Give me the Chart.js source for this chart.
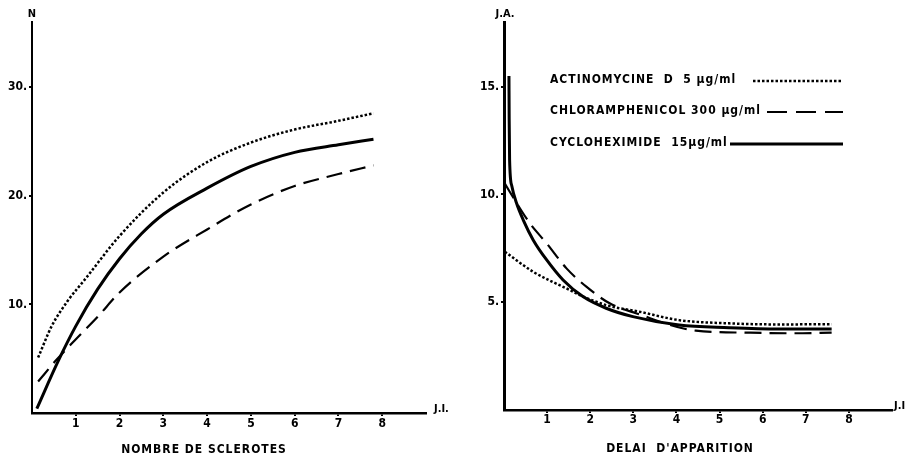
<!DOCTYPE html>
<html>
<head>
<meta charset="utf-8">
<script src="https://cdn.jsdelivr.net/npm/chart.js@4"></script>
<style>
  body { margin: 0; background: #fff; }
  #wrap { position: relative; width: 920px; height: 460px; }
  canvas { position: absolute; top: 0; }
</style>
</head>
<body>
<div id="wrap">
  <canvas id="chartLeft" width="460" height="460" style="left:0"></canvas>
  <canvas id="chartRight" width="460" height="460" style="left:460px"></canvas>
</div>
<script>
// Nombre de sclerotes (N) en fonction de J.I.
const leftActX = [0.14, 0.45, 0.83, 1.21, 2, 3, 4, 5, 6, 7, 7.8];
const leftActY = [5.1, 8.0, 10.4, 12.3, 16.3, 20.3, 23.1, 24.9, 26.1, 26.9, 27.6];
const leftChlorX = [0.14, 0.56, 0.98, 1.51, 2, 3, 4, 5, 6, 7, 7.8];
const leftChlorY = [2.9, 4.9, 6.7, 8.9, 11.1, 14.4, 16.9, 19.2, 20.9, 22.0, 22.8];
const leftCycloX = [0.11, 0.6, 1.0, 1.5, 2, 2.5, 3, 4, 5, 6, 7, 7.8];
const leftCycloY = [0.4, 4.8, 8.0, 11.4, 14.2, 16.5, 18.3, 20.7, 22.7, 24.0, 24.7, 25.2];

// Delai d'apparition (J.A.) en fonction de J.I.
const rightActX = [0.02, 0.68, 1.52, 1.76, 2.4, 3.14, 4.06, 5.22, 6.37, 7.6];
const rightActY = [7.34, 6.41, 5.57, 5.33, 4.85, 4.56, 4.17, 4.02, 3.97, 3.98];
const rightChlorX = [0.02, 0.14, 0.6, 0.99, 1.45, 1.91, 2.45, 3.06, 4.45, 5.6, 6.76, 7.6];
const rightChlorY = [10.5, 10.1, 8.66, 7.73, 6.57, 5.72, 4.95, 4.49, 3.68, 3.59, 3.56, 3.59];
const rightCycloX = [0.115, 0.12, 0.13, 0.18, 0.29, 0.45, 0.68, 0.99, 1.37, 1.83, 2.37, 2.99, 4.06, 5.22, 6.37, 7.6];
const rightCycloY = [15.5, 13.5, 11.6, 10.4, 9.6, 8.8, 7.88, 6.96, 6.03, 5.26, 4.72, 4.33, 3.94, 3.82, 3.76, 3.76];

const xTicks = [1, 2, 3, 4, 5, 6, 7, 8];
const leftYTicks = [10, 20, 30];
const rightYTicks = [5, 10, 15];
const legendLabels = ['ACTINOMYCINE  D  5 µg/ml', 'CHLORAMPHENICOL 300 µg/ml', 'CYCLOHEXIMIDE  15µg/ml'];
const legendDashes = [[2.5, 2], [20, 9], []];

const FONT = "'DejaVu Sans Condensed', 'DejaVu Sans', sans-serif";
Chart.defaults.font.family = FONT;
Chart.defaults.font.weight = 'bold';
Chart.defaults.font.size = 12;
Chart.defaults.color = '#000';

const pts = (xs, ys) => xs.map((x, i) => ({ x: x, y: ys[i] }));

function series(label, xs, ys, dash, width) {
    return {
        label: label,
        data: pts(xs, ys),
        borderColor: '#000',
        borderWidth: width,
        borderDash: dash,
        borderCapStyle: 'butt',
        borderJoinStyle: 'round',
        pointRadius: 0,
        fill: false,
        cubicInterpolationMode: 'monotone'
    };
}

function scales(o) {
    return {
        x: {
            type: 'linear', min: 0, max: 9,
            afterFit: s => { s.height = o.xHeight; },
            afterBuildTicks: s => { s.ticks = xTicks.map(v => ({ value: v })); },
            grid: { drawOnChartArea: false, color: '#000', lineWidth: 2, tickLength: 3 },
            border: { color: '#000', width: 2.5 },
            ticks: { padding: o.xPad, callback: v => String(v) }
        },
        y: {
            type: 'linear', min: 0, max: o.yMax,
            afterFit: s => { s.width = o.yWidth; },
            afterBuildTicks: s => { s.ticks = o.yTicks.map(v => ({ value: v })); },
            grid: { drawOnChartArea: false, color: '#000', lineWidth: 2, tickLength: 3 },
            border: { color: '#000', width: o.yBorder },
            ticks: { padding: 2, callback: v => v + '.' }
        }
    };
}

// textes additionnels : noms des axes, titres, légende
function textPlugin(items, legend) {
    return {
        id: 'texts',
        afterDraw(chart) {
            const ctx = chart.ctx;
            ctx.save();
            ctx.fillStyle = '#000';
            ctx.textBaseline = 'middle';
            items.forEach(t => {
                ctx.font = 'bold ' + t.size + 'px ' + FONT;
                ctx.textAlign = t.align;
                ctx.letterSpacing = (t.spacing || 0) + 'px';
                ctx.fillText(t.text, t.x, t.y);
            });
            if (legend) {
                ctx.font = 'bold 12px ' + FONT;
                ctx.textAlign = 'left';
                ctx.letterSpacing = '1px';
                chart.data.datasets.forEach((ds, i) => {
                    const r = legend.rows[i];
                    ctx.fillText(legendLabels[i], legend.x, r.y);
                    ctx.beginPath();
                    ctx.setLineDash(legendDashes[i]);
                    ctx.lineWidth = ds.borderWidth;
                    ctx.strokeStyle = '#000';
                    ctx.moveTo(r.x0, r.y + 1);
                    ctx.lineTo(legend.x1, r.y + 1);
                    ctx.stroke();
                });
            }
            ctx.restore();
        }
    };
}

const chartLeft = new Chart(document.getElementById('chartLeft').getContext('2d'), {
    type: 'line',
    data: {
        datasets: [
            series('Actinomycine D', leftActX, leftActY, [2.5, 2], 2.5),
            series('Chloramphenicol', leftChlorX, leftChlorY, [16, 8], 2.2),
            series('Cycloheximide', leftCycloX, leftCycloY, [], 3)
        ]
    },
    options: {
        responsive: false,
        animation: false,
        layout: { padding: { left: 0, right: 34, top: 22, bottom: 0 } },
        plugins: { legend: { display: false }, tooltip: { enabled: false } },
        scales: scales({ xHeight: 47, xPad: 1, yMax: 36, yWidth: 32, yTicks: leftYTicks, yBorder: 2 })
    },
    plugins: [textPlugin([
        { text: 'N', x: 32, y: 14, size: 11, align: 'center' },
        { text: 'J.I.', x: 434, y: 409, size: 11, align: 'left' },
        { text: 'NOMBRE DE SCLEROTES', x: 204, y: 450, size: 12, align: 'center', spacing: 1 }
    ], null)]
});

const chartRight = new Chart(document.getElementById('chartRight').getContext('2d'), {
    type: 'line',
    data: {
        datasets: [
            series('Actinomycine D', rightActX, rightActY, [2.5, 2], 2.5),
            series('Chloramphenicol', rightChlorX, rightChlorY, [17, 8], 2.2),
            series('Cycloheximide', rightCycloX, rightCycloY, [], 3)
        ]
    },
    options: {
        responsive: false,
        animation: false,
        layout: { padding: { left: 0, right: 28, top: 22, bottom: 0 } },
        plugins: { legend: { display: false }, tooltip: { enabled: false } },
        scales: scales({ xHeight: 50, xPad: 0, yMax: 18, yWidth: 44, yTicks: rightYTicks, yBorder: 3 })
    },
    plugins: [textPlugin([
        { text: 'J.A.', x: 45, y: 14, size: 11, align: 'center' },
        { text: 'J.I', x: 434, y: 406, size: 11, align: 'left' },
        { text: "DELAI  D'APPARITION", x: 220, y: 449, size: 12, align: 'center', spacing: 1 }
    ], {
        x: 90, x1: 383,
        rows: [{ y: 80, x0: 293 }, { y: 111, x0: 307 }, { y: 143, x0: 270 }]
    })]
});
</script>
</body>
</html>
